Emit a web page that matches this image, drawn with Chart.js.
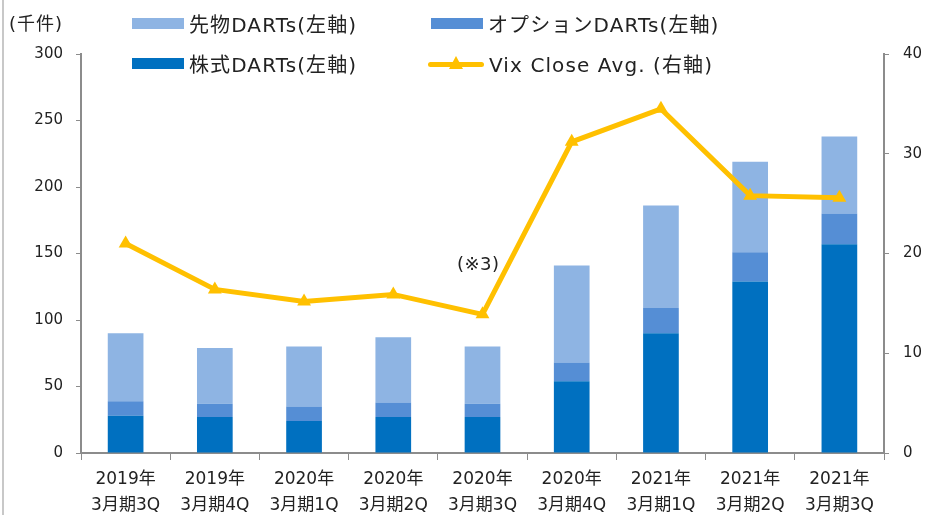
<!DOCTYPE html>
<html lang="ja">
<head>
<meta charset="utf-8">
<script src="https://cdn.jsdelivr.net/npm/chart.js@4/dist/chart.umd.min.js"></script>
<style>
    body { margin: 0; background: #fff; }
    #wrap {
        position: relative;
        width: 926px;
        height: 515px;
        overflow: hidden;
        font-family: "DejaVu Sans", "Noto Sans CJK JP", sans-serif;
        color: #222;
    }
    #edge { position: absolute; left: 2px; top: 0; width: 2px; height: 515px; background: #c8c8c8; }
    .unit { position: absolute; left: 9px; top: 9px; font-size: 18px; letter-spacing: 1px; }
    .note { position: absolute; left: 457px; top: 253px; font-size: 18px; letter-spacing: 0.5px; }
    .legend-item {
        position: absolute;
        display: flex;
        align-items: center;
        font-size: 20px;
        letter-spacing: 1.1px;
        white-space: nowrap;
    }
    .swatch { width: 52px; height: 11px; margin-right: 5px; }
    .lineswatch { position: relative; width: 56px; height: 16px; margin-right: 5px; }
    .lineswatch .bar { position: absolute; left: 0; top: 6px; width: 56px; height: 5px; background: #FFC000; border-radius: 3px; }
    .lineswatch .tri {
        position: absolute; left: 21px; top: 0;
        width: 0; height: 0;
        border-left: 7px solid transparent;
        border-right: 7px solid transparent;
        border-bottom: 13px solid #FFC000;
    }
</style>
</head>
<body>
<div id="wrap">
    <canvas id="chart" width="926" height="515"></canvas>
    <div id="edge"></div>
    <div class="unit">(千件)</div>
    <div class="note">(※3)</div>
    <div class="legend-item" style="left:132px; top:9px;"><span class="swatch" style="background:#8EB4E3"></span>先物DARTs(左軸)</div>
    <div class="legend-item" style="left:431px; top:9px;"><span class="swatch" style="background:#558ED5"></span>オプションDARTs(左軸)</div>
    <div class="legend-item" style="left:132px; top:49px;"><span class="swatch" style="background:#0070C0"></span>株式DARTs(左軸)</div>
    <div class="legend-item" style="left:428px; top:49px;"><span class="lineswatch"><span class="bar"></span><span class="tri"></span></span>Vix Close Avg. (右軸)</div>
</div>
<script>
// Quarters (two-line labels)
const categories = [
    ['2019年', '3月期3Q'],
    ['2019年', '3月期4Q'],
    ['2020年', '3月期1Q'],
    ['2020年', '3月期2Q'],
    ['2020年', '3月期3Q'],
    ['2020年', '3月期4Q'],
    ['2021年', '3月期1Q'],
    ['2021年', '3月期2Q'],
    ['2021年', '3月期3Q']
];

// DARTs in thousands (left axis)
const stockDarts   = [28, 27, 24, 27, 27, 54, 90, 129, 157];
const optionDarts  = [11, 10, 11, 11, 10, 14, 19, 22, 23];
const futuresDarts = [51, 42, 45, 49, 43, 73, 77, 68, 58];

// Vix close average (right axis)
const vixAvg = [21.0, 16.4, 15.2, 15.9, 13.9, 31.2, 34.5, 25.8, 25.6];

const axisColor = '#8c8c8c';
const tickFont = { family: '"DejaVu Sans", "Noto Sans CJK JP", sans-serif', size: 15 };

new Chart(document.getElementById('chart'), {
    type: 'bar',
    data: {
        labels: categories,
        datasets: [
            {
                type: 'line',
                label: 'Vix Close Avg. (右軸)',
                data: vixAvg,
                yAxisID: 'y1',
                borderColor: '#FFC000',
                backgroundColor: '#FFC000',
                borderWidth: 5,
                pointStyle: 'triangle',
                pointRadius: 8,
                pointHoverRadius: 8,
                pointBorderWidth: 0,
                tension: 0,
                order: 0
            },
            { label: '株式DARTs(左軸)', data: stockDarts, backgroundColor: '#0070C0', yAxisID: 'y', order: 1 },
            { label: 'オプションDARTs(左軸)', data: optionDarts, backgroundColor: '#558ED5', yAxisID: 'y', order: 1 },
            { label: '先物DARTs(左軸)', data: futuresDarts, backgroundColor: '#8EB4E3', yAxisID: 'y', order: 1 }
        ]
    },
    options: {
        responsive: false,
        animation: false,
        layout: { padding: { top: 54, bottom: 0, left: 0, right: 0 } },
        datasets: {
            bar: { categoryPercentage: 1, barPercentage: 0.4, borderWidth: 0 }
        },
        plugins: {
            legend: { display: false },
            tooltip: { enabled: false }
        },
        scales: {
            x: {
                stacked: true,
                grid: { display: true, drawOnChartArea: false, tickLength: 7, color: axisColor, offset: true },
                border: { color: axisColor, width: 2 },
                ticks: { color: '#222', font: { ...tickFont, size: 17, lineHeight: '26px' }, padding: 7, maxRotation: 0, autoSkip: false },
                afterFit: scale => { scale.height = 62; }
            },
            y: {
                stacked: true,
                position: 'left',
                min: 0,
                max: 300,
                ticks: { stepSize: 50, color: '#222', font: tickFont, padding: 13 },
                grid: { drawOnChartArea: false, tickLength: 5, color: axisColor },
                border: { color: axisColor, width: 2 },
                afterFit: scale => { scale.width = 81; }
            },
            y1: {
                position: 'right',
                min: 0,
                max: 40,
                ticks: { stepSize: 10, color: '#222', font: tickFont, padding: 14 },
                grid: { drawOnChartArea: false, tickLength: 5, color: axisColor },
                border: { color: axisColor, width: 2 },
                afterFit: scale => { scale.width = 42; }
            }
        }
    }
});
</script>
</body>
</html>
